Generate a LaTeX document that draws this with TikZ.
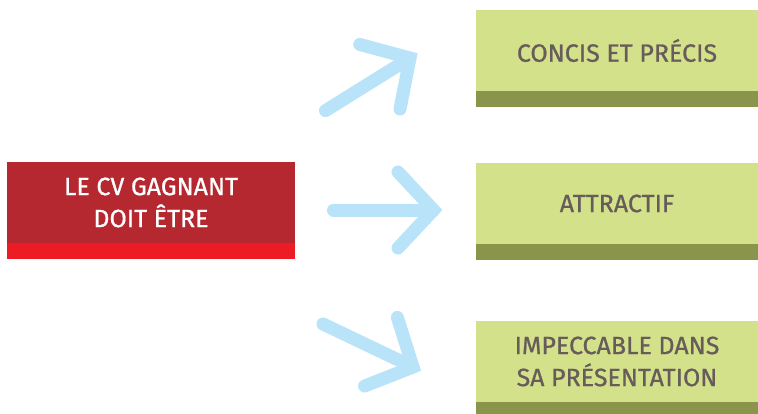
\documentclass[tikz,border=0pt]{standalone}
\usepackage{fontspec}
\setmainfont{Fira Sans}
\newfontfamily\cvfont{Fira Sans}[RawFeature={embolden=0.8}]
\usepackage{tikz}
\usetikzlibrary{positioning,calc}
\definecolor{cvrouge}{HTML}{B5282F}
\definecolor{cvvif}{HTML}{ED1C24}
\definecolor{cvvert}{HTML}{D2E18A}
\definecolor{cvolive}{HTML}{8A944B}
\definecolor{cvbleu}{HTML}{B8E3F8}
\definecolor{cvgris}{HTML}{675C5A}
\tikzset{
	rbox/.style={rectangle,fill=cvrouge,minimum width=288pt,minimum height=81pt,inner sep=0pt,text=white,align=center,font=\fontsize{25}{32}\cvfont},
	rbar/.style={rectangle,fill=cvvif,minimum width=288pt,minimum height=16pt,inner sep=0pt,outer sep=0pt},
	gbox/.style={rectangle,fill=cvvert,minimum width=282pt,minimum height=81pt,inner sep=0pt,text=cvgris,align=center,font=\fontsize{25}{32}\cvfont},
	gbar/.style={rectangle,fill=cvolive,minimum width=282pt,minimum height=16pt,inner sep=0pt,outer sep=0pt},
	fleche/.style={draw=cvbleu,line width=13pt,line cap=round,line join=miter}
}

\begin{document}
\begin{tikzpicture}[x=1pt,y=-1pt]
	\useasboundingbox (0,0) rectangle (758,413);

	\node [rbox] (cv) at (151,202.5) {LE CV GAGNANT\\DOIT ÊTRE};
	\node [rbar,below=0pt of cv] (cvbar) {};

	\node [gbox] (concis) at (617,50.5) {CONCIS ET PRÉCIS};
	\node [gbar,below=0pt of concis] (concisbar) {};
	\node [gbox] (attractif) at (617,203.5) {ATTRACTIF};
	\node [gbar,below=0pt of attractif] (attractifbar) {};
	\node [gbox] (impeccable) at (617,361.5) {IMPECCABLE DANS\\SA PRÉSENTATION};
	\node [gbar,below=0pt of impeccable] (impeccablebar) {};

	\coordinate (dep1) at (325.5,110.6);
	\coordinate (fin1) at (410,58);
	\coordinate (dep2) at (333.5,210);
	\coordinate (fin2) at (433.5,210);
	\coordinate (dep3) at (323,324);
	\coordinate (fin3) at (413,367);

	\draw [fleche] (dep1) -- (fin1);
	\draw [fleche] ($(fin1)!52pt!47:(dep1)$) -- (fin1) -- ($(fin1)!52pt!-47:(dep1)$);
	\draw [fleche] (dep2) -- (fin2);
	\draw [fleche] ($(fin2)!52pt!47:(dep2)$) -- (fin2) -- ($(fin2)!52pt!-47:(dep2)$);
	\draw [fleche] (dep3) -- (fin3);
	\draw [fleche] ($(fin3)!52pt!47:(dep3)$) -- (fin3) -- ($(fin3)!52pt!-47:(dep3)$);
\end{tikzpicture}
\end{document}
